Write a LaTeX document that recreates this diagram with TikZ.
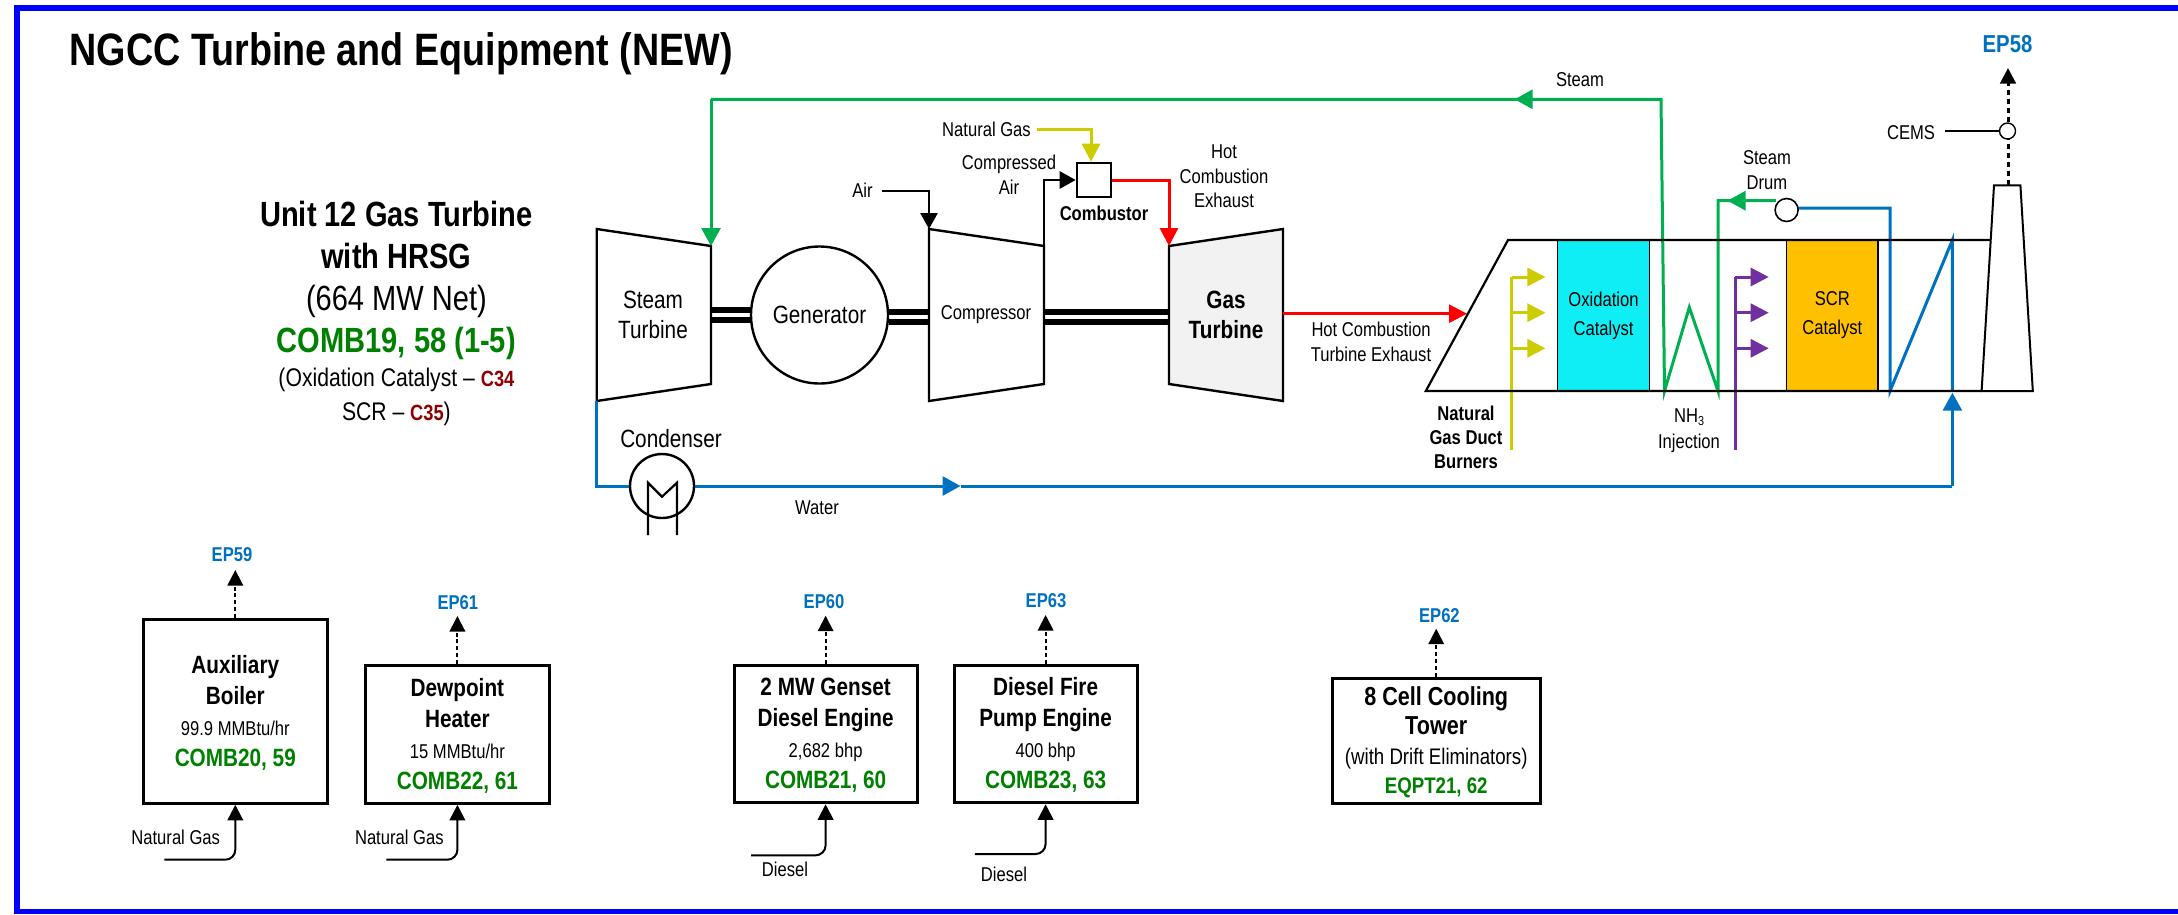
\documentclass[tikz,border=0pt]{standalone}
\usepackage{fontspec}
\setmainfont[FakeStretch=0.83]{Liberation Sans}
\usetikzlibrary{arrows.meta}
\definecolor{cgreen}{HTML}{00B050}
\definecolor{cblue}{HTML}{0070C0}
\definecolor{cyel}{HTML}{CCCC00}
\definecolor{cpur}{HTML}{7030A0}
\definecolor{cred}{HTML}{FF0000}
\definecolor{lblgreen}{HTML}{008000}
\definecolor{lbldred}{HTML}{8F0000}
\definecolor{cyanbox}{HTML}{0FEDF5}
\definecolor{amberbox}{HTML}{FFC000}
\definecolor{gasfill}{HTML}{F2F2F2}
\newcommand{\fsz}[1]{\fontsize{#1}{#1}\selectfont}
\newcommand{\bgr}[1]{{\bfseries\color{lblgreen}#1}}
\newcommand{\brd}[1]{{\fsz{22}\bfseries\color{lbldred}#1}}
\newcommand{\tstrut}{\rule{0pt}{21pt}}
\tikzset{
  x=1pt,y=-1pt,
  txt/.style={inner sep=0pt,align=center,font=\fontsize{20}{24.5}\selectfont},
  txtl/.style={inner sep=0pt,align=center,font=\fontsize{25}{29.5}\selectfont},
  eplbl/.style={inner sep=0pt,text=cblue,font=\fontsize{20}{24}\selectfont\bfseries},
  shape line/.style={draw=black,line width=2.4pt,line join=miter},
  unit/.style={draw=black,line width=3pt,fill=white,inner sep=0pt,align=center,font=\fontsize{25}{31}\selectfont},
  shaft/.style={draw=black,line width=6pt},
  flow/.style={line width=3pt,line join=miter},
  gr/.style={flow,draw=cgreen},
  bl/.style={flow,draw=cblue},
  yl/.style={flow,draw=cyel},
  pu/.style={flow,draw=cpur},
  rd/.style={flow,draw=cred},
  bk/.style={flow,line width=2.6pt,draw=black},
  tipg/.style={-{Triangle[length=18pt,width=19pt,color=cgreen]}},
  tipb/.style={-{Triangle[length=18pt,width=19pt,color=cblue]}},
  tipy/.style={-{Triangle[length=18pt,width=18pt,color=cyel]}},
  tipp/.style={-{Triangle[length=18pt,width=18pt,color=cpur]}},
  tipr/.style={-{Triangle[length=18pt,width=18pt,color=cred]}},
  tipk/.style={-{Triangle[length=16pt,width=17pt,color=black]}},
  tipe/.style={-{Triangle[length=15.5pt,width=15.5pt,color=black]}},
  stackline/.style={draw=black,line width=2pt,dash pattern=on 4pt off 2.8pt},
  ventline/.style={draw=black,line width=3pt,dash pattern=on 5pt off 4pt},
  feed/.style={draw=black,line width=2pt,rounded corners=10pt},
  ring/.style={circle,draw=black,fill=white,inner sep=0pt},
}
\begin{document}
\begin{tikzpicture}
\useasboundingbox (0,0) rectangle (2178,914);
% page frame
\coordinate (fTL) at (17,8);
\coordinate (fBL) at (17,911.6);
\coordinate (fTR) at (2190,8);
\coordinate (fBR) at (2190,911.6);
\draw[draw=blue,line width=5.4pt,line cap=butt] (fTR) -- (fTL) -- (fBL) -- (fBR);
% title
\node[anchor=west,inner sep=0pt,font=\fontsize{45.4}{50}\selectfont\bfseries] (title) at (69.5,54) {NGCC Turbine and Equipment (NEW)};
% left summary
\node[inner sep=0pt,align=center,font=\fontsize{35}{42}\selectfont] (unit12) at (396.4,280) {\bfseries Unit 12 Gas Turbine\\ \bfseries with HRSG\\ (664 MW Net)\\ \bgr{COMB19, 58 (1-5)}};
\node[inner sep=0pt,align=center,font=\fontsize{25.5}{34.5}\selectfont] (unit12b) at (396.4,397) {(Oxidation Catalyst -- \brd{C34}\\ SCR -- \brd{C35})};
% machine outlines
\coordinate (stTL) at (596.7,229); \coordinate (stTR) at (711,246);
\coordinate (stBR) at (711,384);   \coordinate (stBL) at (596.7,401);
\coordinate (coTL) at (929,229);   \coordinate (coTR) at (1044,246);
\coordinate (coBR) at (1044,384);  \coordinate (coBL) at (929,401);
\coordinate (gtTL) at (1169,246);  \coordinate (gtTR) at (1283,229);
\coordinate (gtBR) at (1283,401);  \coordinate (gtBL) at (1169,384);
\node[ring,line width=2.4pt,minimum size=137pt,font=\fontsize{25}{30}\selectfont] (gen) at (819.5,315) {Generator};
\draw[shaft] (711,309.7) -- (gen.west |- 0,309.7);
\draw[shaft] (711,319.7) -- (gen.west |- 0,319.7);
\draw[shaft] (gen.east |- 0,312) -- (coTL |- 0,312);
\draw[shaft] (gen.east |- 0,322.3) -- (coTL |- 0,322.3);
\draw[shaft] (coTR |- 0,312) -- (gtTL |- 0,312);
\draw[shaft] (coTR |- 0,322.3) -- (gtTL |- 0,322.3);
\draw[shape line,fill=white] (stTL) -- (stTR) -- (stBR) -- (stBL) -- cycle;
\draw[shape line,fill=white] (coTL) -- (coTR) -- (coBR) -- (coBL) -- cycle;
\draw[shape line,fill=gasfill] (gtTL) -- (gtTR) -- (gtBR) -- (gtBL) -- cycle;
\node[txtl,font=\fontsize{25}{30}\selectfont] (stlbl) at (653,315) {Steam\\Turbine};
\node[txt] (colbl) at (986,315) {Compressor};
\node[txtl,font=\fontsize{25}{30}\selectfont\bfseries] (gtlbl) at (1226,315) {Gas\\Turbine};
% combustor
\node[draw=black,line width=2.6pt,fill=white,minimum width=34pt,minimum height=34pt,inner sep=0pt] (comb) at (1094,180) {};
\node[txt,font=\fontsize{20}{24}\selectfont\bfseries] (comblbl) at (1104,213) {Combustor};
\node[txt] (nglbl) at (986.5,129) {Natural Gas};
\node[txt] (calbl) at (1009,174.5) {Compressed\\Air};
\node[txt] (airlbl) at (862.5,190) {Air};
\node[txt] (hotlbl) at (1224,176.5) {Hot\\Combustion\\Exhaust};
\coordinate (ngs) at (1037,129);
\coordinate (ngt) at (comb.north -| 1091,0);
\draw[yl,tipy] (ngs) -| (ngt);
\coordinate (airs) at (882,191);
\draw[bk,tipk] (airs) -| (coTL);
\draw[bk,tipk] (coTR) |- (comb.west);
\draw[rd,tipr] (comb.east) -| (gtTL);
% HRSG duct
\coordinate (duBL) at (1425.8,391); \coordinate (duTL) at (1508,240);
\coordinate (duTR) at (1990.6,240); \coordinate (duBR) at (1981.6,391);
\node[draw=black,line width=1.2pt,fill=cyanbox,inner sep=0pt,minimum width=92.3pt,minimum height=151pt,align=center,font=\fontsize{20}{29}\selectfont] (oxi) at (1603.5,315.5) {Oxidation\\Catalyst};
\node[draw=black,line width=1.2pt,fill=amberbox,inner sep=0pt,minimum width=91.4pt,minimum height=151pt,align=center,font=\fontsize{20}{29}\selectfont] (scr) at (1832.3,315.5) {SCR\\Catalyst};
% stack
\coordinate (skBL) at (1981.6,391); \coordinate (skTL) at (1994,185.3);
\coordinate (skTR) at (2020.4,185.3); \coordinate (skBR) at (2032.8,391);
\draw[draw=black,line width=2pt,fill=white] (skBL) -- (skTL) -- (skTR) -- (skBR) -- cycle;
% exhaust in
\node[txt] (hcte) at (1371,342) {Hot Combustion\\Turbine Exhaust};
\coordinate (hrsgin) at (1467,313.7);
\draw[rd,tipr] (gtBR |- hrsgin) -- (hrsgin);
% duct burners
\node[txt,font=\fontsize{20}{24.4}\selectfont\bfseries] (burn) at (1466,437.3) {Natural\\Gas Duct\\Burners};
\coordinate (ybot) at (1511.7,450);
\coordinate (y1) at (1545.4,277); \coordinate (y2) at (1545.4,312.7); \coordinate (y3) at (1545.4,348.3);
\draw[yl] (ybot) -- (ybot |- y1);
\draw[yl,tipy] (ybot |- y1) -- (y1);
\draw[yl,tipy] (ybot |- y2) -- (y2);
\draw[yl,tipy] (ybot |- y3) -- (y3);
% NH3
\node[txt,font=\fontsize{20}{25.3}\selectfont] (nh3) at (1689,430.6) {NH\raisebox{-3pt}{\fontsize{13}{13}\selectfont 3}\\Injection};
\coordinate (pbot) at (1735,450);
\coordinate (p1) at (1768.7,277); \coordinate (p2) at (1768.7,312.7); \coordinate (p3) at (1768.7,348.3);
\draw[pu] (pbot) -- (pbot |- p1);
\draw[pu,tipp] (pbot |- p1) -- (p1);
\draw[pu,tipp] (pbot |- p2) -- (p2);
\draw[pu,tipp] (pbot |- p3) -- (p3);
% steam circuit
\node[txt] (druml) at (1767,170) {Steam\\Drum};
\node[txt] (steaml) at (1580,79.3) {Steam};
\coordinate (s0) at (1664.5,391); \coordinate (s1) at (1661,99.3);
\coordinate (s2) at (stTR |- s1);
\coordinate (z1) at (1689.3,307.3); \coordinate (z2) at (1718,391);
\coordinate (sArrow) at (1514.6,99.3);
\coordinate (dgA) at (1727.5,200.7);
\coordinate (dgB) at (1775.5,200.7);
\draw[gr,tipg] (s2) -- (stTR);
\draw[gr] (s2) -- (s1) -- (s0) -- (z1) -- (z2) -- (1718,200.7) -- (dgB);
\draw[gr,tipg] (s1) -- (sArrow);
\draw[gr,tipg] (dgB) -- (dgA);
% water circuit
\node[ring,line width=2.4pt,minimum size=64pt] (cond) at (662,486) {};
\coordinate (cmA) at (648,535); \coordinate (cmB) at (648,482.7); \coordinate (cmC) at (662,496.7);
\coordinate (cmD) at (677,482.7); \coordinate (cmE) at (677,535);
\draw[draw=black,line width=2.2pt,line join=miter] (cmA) -- (cmB) -- (cmC) -- (cmD) -- (cmE);
\node[txtl] (condl) at (671,439) {Condenser};
\node[txt] (waterl) at (817,508) {Water};
\coordinate (wArrow) at (960.5,486);
\coordinate (wEnd) at (1952.4,486);
\coordinate (wTip) at (1952.4,392.7);
\draw[bl] (stBL) |- (cond.west);
\draw[bl,tipb] (cond.east) -- (wArrow);
\draw[bl] (wArrow) -- (wEnd);
\draw[bl,tipb] (wEnd) -- (wTip);
\coordinate (bz0) at (1890,391); \coordinate (bz1) at (1952.4,240); \coordinate (bz2) at (1952.4,391);
\coordinate (bz3) at (1890,208);
\coordinate (drumR) at (1798,208);
\draw[bl] (drumR) -- (bz3) -- (bz0) -- (bz1) -- (bz2);
\node[ring,line width=1.6pt,minimum size=23pt] (drum) at (1786.6,210) {};
% duct outline over the flows
\draw[draw=black,line width=2.2pt,line join=miter] (duTR) -- (duTL) -- (duBL) -- (duBR);
% stack vent
\node[eplbl,font=\fontsize{24.5}{28}\selectfont\bfseries] (ep58) at (2007.5,44) {EP58};
\coordinate (ventTop) at (2008,68);
\coordinate (ventBase) at (2008,185.3);
\draw[ventline,tipe] (ventBase) -- (ventTop);
\node[ring,line width=1.4pt,minimum size=16pt] (cems) at (2007.5,131) {};
\node[txt] (cemsl) at (1911,132.7) {CEMS};
\coordinate (cemss) at (1945.4,131);
\draw[draw=black,line width=1.4pt] (cemss) -- (cems.west);
% small units
\node[unit,minimum width=183.4pt,minimum height=184pt] (aux) at (235.3,711.3) {\tstrut\bfseries Auxiliary\\ \bfseries Boiler\\ {\fsz{20}99.9 MMBtu/hr}\\ \bgr{COMB20, 59}};
\node[unit,minimum width=184pt,minimum height=138pt] (dew) at (457.4,734.3) {\tstrut\bfseries Dewpoint\\ \bfseries Heater\\ {\fsz{20}15 MMBtu/hr}\\ \bgr{COMB22, 61}};
\node[unit,minimum width=183.2pt,minimum height=137.7pt] (gen2) at (825.6,733.9) {\tstrut\bfseries 2 MW Genset\\ \bfseries Diesel Engine\\ {\fsz{20}2,682 bhp}\\ \bgr{COMB21, 60}};
\node[unit,minimum width=183.2pt,minimum height=137.7pt] (fire) at (1045.6,733.9) {\tstrut\bfseries Diesel Fire\\ \bfseries Pump Engine\\ {\fsz{20}400 bhp}\\ \bgr{COMB23, 63}};
\node[unit,font=\fontsize{26}{29.5}\selectfont,minimum width=208.4pt,minimum height=125.3pt] (cool) at (1436.2,740.7) {\rule{0pt}{22pt}\bfseries 8 Cell Cooling\\ \bfseries Tower\\ {\fsz{22.5}(with Drift Eliminators)}\\ {\fsz{22.5}\bgr{EQPT21, 62}}};
% emission points
\node[eplbl] (ep59) at (232,555) {EP59};
\node[eplbl] (ep61) at (457.9,603) {EP61};
\node[eplbl] (ep60) at (824,602) {EP60};
\node[eplbl] (ep63) at (1046,601) {EP63};
\node[eplbl] (ep62) at (1439.4,615.7) {EP62};
\coordinate (v59) at (235.3,570); \coordinate (v61) at (457.4,616);
\coordinate (v60) at (825.6,615.7); \coordinate (v63) at (1045.6,615);
\coordinate (v62) at (1436.2,628.7);
\draw[stackline,tipe] (aux.north) -- (v59);
\draw[stackline,tipe] (dew.north) -- (v61);
\draw[stackline,tipe] (gen2.north) -- (v60);
\draw[stackline,tipe] (fire.north) -- (v63);
\draw[stackline,tipe] (cool.north) -- (v62);
% fuel feeds
\node[txt] (fa) at (175.7,837.7) {Natural Gas};
\node[txt] (fd) at (399.3,837.7) {Natural Gas};
\node[txt] (fg) at (785,869.7) {Diesel};
\node[txt] (ff) at (1004,874) {Diesel};
\coordinate (ia) at (164.3,859.7); \coordinate (id) at (386.4,859.7);
\coordinate (ig) at (751,855.3); \coordinate (if) at (974.8,854);
\draw[feed,tipe] (ia) -| (aux.south);
\draw[feed,tipe] (id) -| (dew.south);
\draw[feed,tipe] (ig) -| (gen2.south);
\draw[feed,tipe] (if) -| (fire.south);
\end{tikzpicture}
\end{document}
